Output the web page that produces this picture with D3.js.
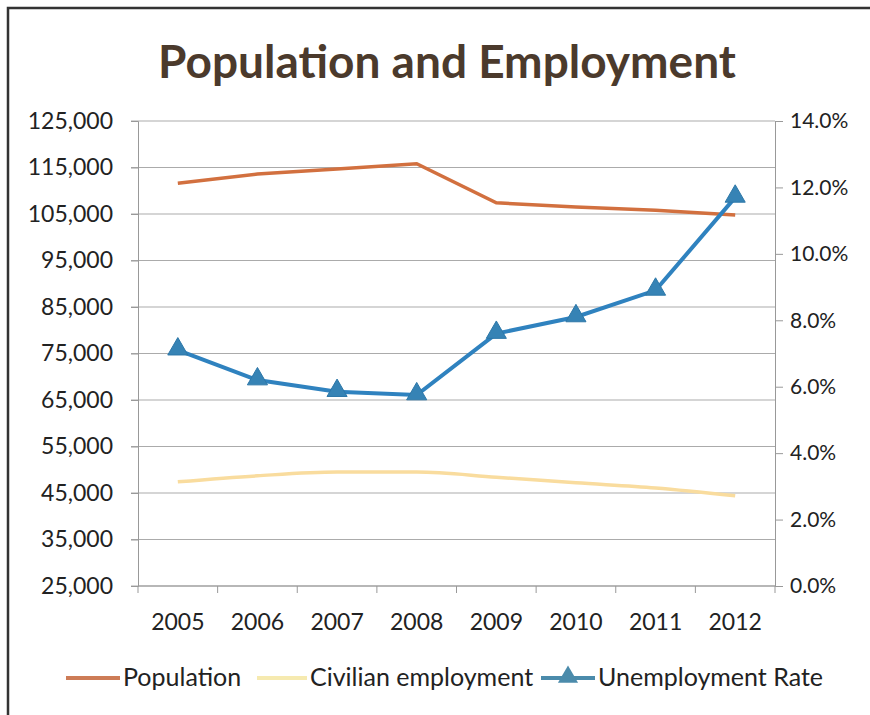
<!DOCTYPE html>
<html>
<head>
<meta charset="utf-8">
<script src="https://cdn.jsdelivr.net/npm/d3@7"></script>
<style>
  body { margin: 0; background: #fff; }
  svg { display: block; }
  text { font-family: Lato, "Open Sans", sans-serif; fill: #222; }
</style>
</head>
<body>
<script>
// chart data
const years = ['2005', '2006', '2007', '2008', '2009', '2010', '2011', '2012'];
const population = [111600, 113600, 114700, 115800, 107400, 106500, 105800, 104800];
const civilian = [47400, 48700, 49500, 49500, 48400, 47200, 46100, 44400];
const unemployment = [7.1, 6.2, 5.85, 5.75, 7.6, 8.1, 8.9, 11.7];
const leftTicks = [25000, 35000, 45000, 55000, 65000, 75000, 85000, 95000, 105000, 115000, 125000];
const rightTicks = [0, 2, 4, 6, 8, 10, 12, 14];

const width = 870, height = 715;
const margin = { top: 121, right: 95, bottom: 129, left: 138 };

const svg = d3.select('body').append('svg')
  .attr('width', width)
  .attr('height', height);

// outer frame (left and top edges visible)
svg.append('path')
  .attr('d', `M8,${height} L8,8 L${width},8`)
  .attr('fill', 'none')
  .attr('stroke', '#333')
  .attr('stroke-width', 2.5);

svg.append('text')
  .attr('x', 447)
  .attr('y', 78)
  .attr('text-anchor', 'middle')
  .style('font-size', '46px')
  .style('font-weight', 'bold')
  .style('fill', '#4b3a2c')
  .text('Population and Employment');

const x = d3.scaleBand().domain(years).range([margin.left, width - margin.right]);
const yL = d3.scaleLinear().domain([25000, 125000]).range([height - margin.bottom, margin.top]);
const yR = d3.scaleLinear().domain([0, 14]).range([height - margin.bottom, margin.top]);
const cx = d => x(d) + x.bandwidth() / 2;

// gridlines
svg.append('g')
  .selectAll('line')
  .data(leftTicks)
  .join('line')
  .attr('x1', margin.left - 7)
  .attr('x2', width - margin.right)
  .attr('y1', d => yL(d))
  .attr('y2', d => yL(d))
  .attr('stroke', '#ababab')
  .attr('stroke-width', 1.2);

// left axis
const axL = svg.append('g')
  .attr('transform', `translate(${margin.left},0)`)
  .call(d3.axisLeft(yL).tickValues(leftTicks).tickFormat(d3.format(',')).tickSize(7).tickPadding(18));
axL.select('.domain').attr('stroke', '#999');
axL.selectAll('.tick line').attr('stroke', '#999');
axL.selectAll('text').style('font-size', '23px').style('font-family', 'Lato, sans-serif').attr('fill', '#333');

// right axis
const axR = svg.append('g')
  .attr('transform', `translate(${width - margin.right},0)`)
  .call(d3.axisRight(yR).tickValues(rightTicks).tickFormat(d => d.toFixed(1) + '%').tickSize(8).tickPadding(7));
axR.select('.domain').attr('stroke', '#999');
axR.selectAll('.tick line').attr('stroke', '#999');
axR.selectAll('text').style('font-size', '21px').style('font-family', 'Lato, sans-serif').attr('fill', '#333');

// bottom axis: ticks between categories
const bottom = height - margin.bottom;
const axB = svg.append('g').attr('transform', `translate(0,${bottom})`);
axB.append('line')
  .attr('x1', margin.left).attr('x2', width - margin.right)
  .attr('stroke', '#999');
axB.selectAll('.sep')
  .data(years.concat(['end']))
  .join('line')
  .attr('class', 'sep')
  .attr('x1', (d, i) => margin.left + i * x.bandwidth())
  .attr('x2', (d, i) => margin.left + i * x.bandwidth())
  .attr('y1', 0).attr('y2', 7)
  .attr('stroke', '#999');
axB.selectAll('.lbl')
  .data(years)
  .join('text')
  .attr('class', 'lbl')
  .attr('x', d => cx(d))
  .attr('y', 44)
  .attr('text-anchor', 'middle')
  .style('font-size', '23px')
  .text(d => d);

// lines
const popLine = d3.line().x((d, i) => cx(years[i])).y(d => yL(d));
const civLine = d3.line().x((d, i) => cx(years[i])).y(d => yL(d)).curve(d3.curveMonotoneX);
const rateLine = d3.line().x((d, i) => cx(years[i])).y(d => yR(d));

svg.append('path')
  .datum(civilian)
  .attr('d', civLine)
  .attr('fill', 'none')
  .attr('stroke', '#f9dc9e')
  .attr('stroke-width', 3.5);

svg.append('path')
  .datum(population)
  .attr('d', popLine)
  .attr('fill', 'none')
  .attr('stroke', '#d2703f')
  .attr('stroke-width', 3.5);

svg.append('path')
  .datum(unemployment)
  .attr('d', rateLine)
  .attr('fill', 'none')
  .attr('stroke', '#2f82bf')
  .attr('stroke-width', 4);

const tri = d3.symbol().type(d3.symbolTriangle).size(175);
svg.append('g')
  .selectAll('path')
  .data(unemployment)
  .join('path')
  .attr('transform', (d, i) => `translate(${cx(years[i])},${yR(d) - 1})`)
  .attr('d', tri)
  .attr('fill', '#3683b5')
  .attr('stroke', '#2d77a8')
  .attr('stroke-width', 1);

// legend
const legend = [
  { name: 'Population', color: '#cd7c57', x: 66, w: 54, marker: false },
  { name: 'Civilian employment', color: '#f6eab0', x: 257, w: 50, marker: false },
  { name: 'Unemployment Rate', color: '#4b8bab', x: 541, w: 54, marker: true }
];
const lg = svg.append('g').attr('transform', 'translate(0,678)');
legend.forEach(l => {
  lg.append('line')
    .attr('x1', l.x).attr('x2', l.x + l.w)
    .attr('stroke', l.color)
    .attr('stroke-width', 4);
  if (l.marker) {
    lg.append('path')
      .attr('transform', `translate(${l.x + l.w / 2},-1)`)
      .attr('d', tri)
      .attr('fill', l.color);
  }
  lg.append('text')
    .attr('x', l.x + l.w + 3)
    .attr('y', 8)
    .style('font-size', '25px')
    .text(l.name);
});
</script>
</body>
</html>
